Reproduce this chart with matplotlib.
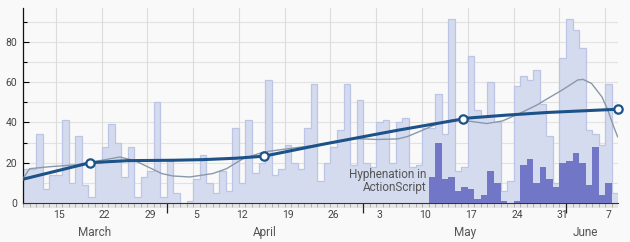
import matplotlib
matplotlib.use("Agg")
import matplotlib.pyplot as plt
import matplotlib.dates as mdates
from matplotlib.patches import Rectangle
import numpy as np
import pandas as pd

# daily counts, 2010-03-10 .. 2010-06-08
start = "2010-03-10"
total = [17, 17, 34, 7, 14, 14, 41, 10, 33, 9, 3, 20, 28, 39, 30, 13, 28, 3, 13, 16,
         50, 3, 21, 5, 0, 1, 12, 24, 10, 5, 16, 6, 37, 10, 41, 15, 20, 61, 14, 17,
         29, 20, 17, 37, 59, 11, 20, 28, 36, 59, 19, 51, 20, 18, 40, 41, 20, 40, 42, 18,
         19, 37, 37, 54, 34, 91, 16, 18, 73, 46, 43, 60, 40, 6, 11, 58, 63, 61, 66, 49,
         33, 10, 72, 91, 86, 77, 36, 34, 29, 59, 5]
# subset, from 2010-05-11
sub_start = "2010-05-11"
subset = [13, 30, 12, 13, 6, 8, 7, 2, 4, 16, 10, 1, 0, 1, 19, 22, 10, 18, 12, 8,
          20, 21, 25, 20, 9, 28, 4, 10, 0]

# trend line (days after start, value), markers at some points
trend_day = [0, 10.3, 16, 23, 27.5, 32.5, 36.8, 45.8, 57.3, 67.3, 68.3, 74, 80.2, 90.9]
trend_val = [11.8, 20, 21, 21.2, 21.5, 22.2, 23.2, 29.1, 36.1, 41.7, 42.2, 43.6, 44.9, 46.5]
marker_day = [10.3, 36.8, 67.3, 90.9]
marker_val = [20, 23.2, 41.7, 46.5]

# smoothed line
smooth_day = [0, 1.0, 4.1, 8.2, 11.7, 14.8, 17.1, 19.1, 21.2, 22.9, 25.5, 29.0, 31.1,
              33.6, 36.8, 40.0, 45.8, 50.4, 54.1, 57.3, 58.8, 61.0, 63.4, 65.5, 67.2,
              70.9, 73.3, 75.9, 78.5, 80.2, 82.4, 84.8, 85.6, 86.9, 88.5, 89.4, 90.2, 90.9]
smooth_val = [12, 17, 18, 19, 21, 22.8, 21, 17.9, 14.6, 13.4, 12.9, 14.6, 17,
              21.9, 25.3, 26.7, 29.1, 32, 31.5, 31.8, 33, 36, 39.4, 41, 41,
              39.4, 40.7, 44.4, 48.5, 51.8, 56, 61, 61.3, 59.3, 52.6, 46, 38.6, 32.8]

note = "Hyphenation in\nActionScript"

plt.rcParams['font.family'] = ['Roboto', 'DejaVu Sans']

x0 = mdates.date2num(pd.Timestamp(start))
edges = mdates.date2num(pd.date_range(start, periods=len(total) + 1))
sub_edges = mdates.date2num(pd.date_range(sub_start, periods=len(subset) + 1))

fig = plt.figure(figsize=(6.3, 2.42), dpi=100)
fig.patch.set_facecolor('#f9f9f9')
ax = fig.add_axes([23 / 630, 39 / 242, 595 / 630, 195 / 242])
ax.set_facecolor('#f9f9f9')

# bars as a step histogram: fill, then outline of the profile
ax.stairs(total, edges, fill=True, color='#d5dbef', lw=0, zorder=2)
ax.stairs(total, edges, color='#bcc5e5', lw=0.9, zorder=2.5)
ax.stairs(subset, sub_edges, fill=True, color='#7177c6', lw=0, zorder=3)

ax.plot(x0 + np.array(smooth_day), smooth_val, color='#8a99aa', lw=1, zorder=4)
ax.plot(x0 + np.array(trend_day), trend_val, color='#1c5287', lw=2.2, zorder=5)
ax.plot(x0 + np.array(marker_day), marker_val, 'o', ms=6, mfc='white', mec='#1c5287',
        mew=1.6, zorder=6, clip_on=False)

ax.text(mdates.date2num(pd.Timestamp(sub_start)) - 0.3, 10.8, note, ha='right', va='center',
        fontsize=8.5, color='#555555', linespacing=1.05, zorder=7)

ax.set_xlim(x0, x0 + 90.95)
ax.set_ylim(0, 96.7)

# grid
ax.set_yticks(range(0, 81, 20))
ax.set_yticks(range(10, 91, 20), minor=True)
for v in range(10, 91, 10):
    ax.axhline(v, color='#e2e2e2', lw=0.8, zorder=1)
weeks = pd.date_range("2010-03-15", "2010-06-07", freq='7D')
for w in weeks:
    ax.axvline(mdates.date2num(w), color='#dcdcdc', lw=0.8, zorder=1)

ax.tick_params(axis='y', which='both', direction='in', length=3, width=0.8,
               labelsize=7.5, labelcolor='#444444', pad=4)
ax.tick_params(axis='y', which='major', length=4)

# x axis: day ticks, month ticks, week labels below
months = pd.date_range("2010-04-01", "2010-06-01", freq='MS')
ax.set_xticks(mdates.date2num(months))
ax.set_xticks(edges[:-1], minor=True)
ax.set_xticklabels([])
ax.tick_params(axis='x', which='minor', direction='out', length=3, width=0.5, color='#999999')
ax.tick_params(axis='x', which='major', direction='out', length=7, width=0.9, color='#222222')

tr = ax.get_xaxis_transform()
for w in weeks:
    ax.text(mdates.date2num(w) + 0.5, -0.06, str(w.day), transform=tr, ha='center',
            va='center', fontsize=7.5, color='#444444')

month_names = ["March", "April", "May", "June"]
month_edges = [x0] + list(mdates.date2num(months)) + [x0 + 89]
for i, name in enumerate(month_names):
    mid = (month_edges[i] + month_edges[i + 1]) / 2
    ax.text(mid, -0.15, name, transform=tr, ha='center', va='center',
            fontsize=8.5, color='#555555')

ax.add_patch(Rectangle((0, -0.027), 1, 0.027, transform=ax.transAxes, color='#e6e6e6',
                       lw=0, clip_on=False, zorder=0))

for s in ['top', 'right']:
    ax.spines[s].set_visible(False)
ax.spines['left'].set_color('#111111')
ax.spines['left'].set_linewidth(0.9)
ax.spines['bottom'].set_color('#333333')
ax.spines['bottom'].set_linewidth(0.8)

fig.savefig("out.png", dpi=100, facecolor=fig.get_facecolor())
